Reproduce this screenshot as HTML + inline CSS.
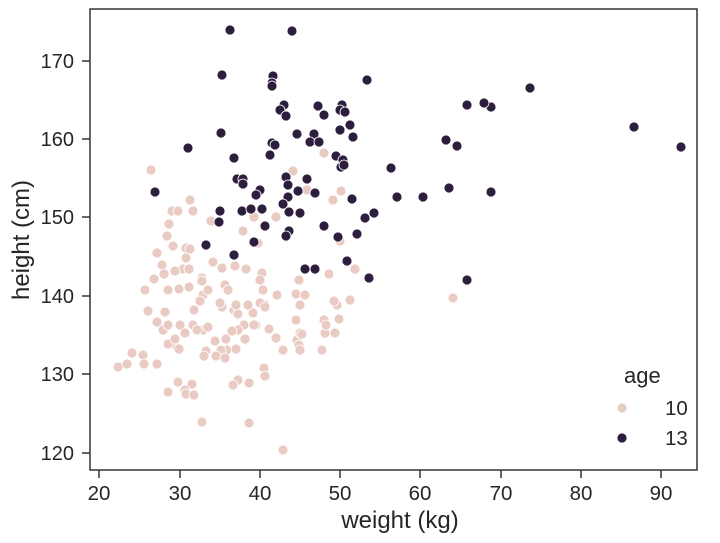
<!DOCTYPE html><html><head><meta charset="utf-8"><style>body{margin:0;background:#fff}svg{display:block;font-family:"Liberation Sans","DejaVu Sans",sans-serif}</style></head><body>
<svg width="720" height="543" viewBox="0 0 720 543">
<rect x="90" y="9" width="607" height="461" fill="#fff" stroke="#262626" stroke-width="1.4"/>
<g stroke="#262626" stroke-width="1.4">
<line x1="99" y1="470" x2="99" y2="478"/><line x1="180" y1="470" x2="180" y2="478"/><line x1="260" y1="470" x2="260" y2="478"/><line x1="340" y1="470" x2="340" y2="478"/><line x1="420" y1="470" x2="420" y2="478"/><line x1="501" y1="470" x2="501" y2="478"/><line x1="581" y1="470" x2="581" y2="478"/><line x1="661" y1="470" x2="661" y2="478"/>
<line x1="82" y1="453" x2="90" y2="453"/><line x1="82" y1="374" x2="90" y2="374"/><line x1="82" y1="296" x2="90" y2="296"/><line x1="82" y1="217" x2="90" y2="217"/><line x1="82" y1="139" x2="90" y2="139"/><line x1="82" y1="61" x2="90" y2="61"/>
</g>
<g font-size="20.5" fill="#262626" text-anchor="middle">
<text x="99" y="500">20</text><text x="180" y="500">30</text><text x="260" y="500">40</text><text x="340" y="500">50</text><text x="420" y="500">60</text><text x="501" y="500">70</text><text x="581" y="500">80</text><text x="661" y="500">90</text>
</g>
<g font-size="20" fill="#262626" text-anchor="end">
<text x="74" y="460">120</text><text x="74" y="381">130</text><text x="74" y="303">140</text><text x="74" y="224">150</text><text x="74" y="146">160</text><text x="74" y="68">170</text>
</g>
<text x="400" y="528" font-size="24" fill="#262626" text-anchor="middle">weight (kg)</text>
<text transform="translate(29,240) rotate(-90)" font-size="24" fill="#262626" text-anchor="middle">height (cm)</text>
<g fill="#eacbc3" stroke="#fff" stroke-width="0.8">
<circle cx="151" cy="170" r="5"/><circle cx="190" cy="200" r="5"/><circle cx="172" cy="211" r="5"/><circle cx="178" cy="211" r="5"/><circle cx="193" cy="211" r="5"/><circle cx="169" cy="224" r="5"/><circle cx="211" cy="221" r="5"/><circle cx="167" cy="236" r="5"/><circle cx="254" cy="217" r="5"/><circle cx="243" cy="231" r="5"/><circle cx="276" cy="217" r="5"/><circle cx="286" cy="237" r="5"/><circle cx="258" cy="243" r="5"/><circle cx="173" cy="246" r="5"/><circle cx="186" cy="248" r="5"/><circle cx="157" cy="253" r="5"/><circle cx="186" cy="258" r="5"/><circle cx="190" cy="249" r="5"/><circle cx="183" cy="269" r="5"/><circle cx="213" cy="262" r="5"/><circle cx="202" cy="278" r="5"/><circle cx="222" cy="268" r="5"/><circle cx="246" cy="269" r="5"/><circle cx="262" cy="273" r="5"/><circle cx="235" cy="266" r="5"/><circle cx="162" cy="265" r="5"/><circle cx="164" cy="274" r="5"/><circle cx="175" cy="271" r="5"/><circle cx="189" cy="269" r="5"/><circle cx="189" cy="287" r="5"/><circle cx="154" cy="279" r="5"/><circle cx="145" cy="290" r="5"/><circle cx="168" cy="290" r="5"/><circle cx="179" cy="289" r="5"/><circle cx="202" cy="281" r="5"/><circle cx="203" cy="295" r="5"/><circle cx="225" cy="285" r="5"/><circle cx="208" cy="290" r="5"/><circle cx="228" cy="290" r="5"/><circle cx="260" cy="280" r="5"/><circle cx="263" cy="290" r="5"/><circle cx="299" cy="280" r="5"/><circle cx="277" cy="295" r="5"/><circle cx="296" cy="294" r="5"/><circle cx="300" cy="305" r="5"/><circle cx="265" cy="305" r="5"/><circle cx="329" cy="274" r="5"/><circle cx="293" cy="171" r="5"/><circle cx="307" cy="190" r="5"/><circle cx="333" cy="200" r="5"/><circle cx="340" cy="241" r="5"/><circle cx="341" cy="191" r="5"/><circle cx="355" cy="269" r="5"/><circle cx="324" cy="153" r="5"/>
<circle cx="148" cy="311" r="5"/><circle cx="165" cy="312" r="5"/><circle cx="200" cy="301" r="5"/><circle cx="234" cy="310" r="5"/><circle cx="238" cy="314" r="5"/><circle cx="236" cy="305" r="5"/><circle cx="260" cy="303" r="5"/><circle cx="265" cy="307" r="5"/><circle cx="256" cy="325" r="5"/><circle cx="180" cy="325" r="5"/><circle cx="157" cy="322" r="5"/><circle cx="163" cy="330" r="5"/><circle cx="193" cy="325" r="5"/><circle cx="203" cy="330" r="5"/><circle cx="168" cy="325" r="5"/><circle cx="185" cy="333" r="5"/><circle cx="208" cy="327" r="5"/><circle cx="174" cy="344" r="5"/><circle cx="168" cy="344" r="5"/><circle cx="175" cy="339" r="5"/><circle cx="179" cy="349" r="5"/><circle cx="197" cy="330" r="5"/><circle cx="215" cy="341" r="5"/><circle cx="226" cy="339" r="5"/><circle cx="245" cy="339" r="5"/><circle cx="244" cy="325" r="5"/><circle cx="254" cy="325" r="5"/><circle cx="253" cy="313" r="5"/><circle cx="227" cy="350" r="5"/><circle cx="221" cy="350" r="5"/><circle cx="269" cy="329" r="5"/><circle cx="216" cy="356" r="5"/><circle cx="236" cy="349" r="5"/><circle cx="206" cy="351" r="5"/><circle cx="204" cy="356" r="5"/><circle cx="225" cy="358" r="5"/><circle cx="238" cy="330" r="5"/><circle cx="132" cy="353" r="5"/><circle cx="143" cy="355" r="5"/><circle cx="118" cy="367" r="5"/><circle cx="127" cy="364" r="5"/><circle cx="144" cy="364" r="5"/><circle cx="157" cy="364" r="5"/><circle cx="178" cy="382" r="5"/><circle cx="192" cy="384" r="5"/><circle cx="185" cy="390" r="5"/><circle cx="186" cy="394" r="5"/><circle cx="194" cy="395" r="5"/><circle cx="168" cy="392" r="5"/><circle cx="238" cy="380" r="5"/><circle cx="233" cy="385" r="5"/><circle cx="249" cy="383" r="5"/><circle cx="264" cy="368" r="5"/><circle cx="265" cy="376" r="5"/><circle cx="202" cy="422" r="5"/><circle cx="249" cy="423" r="5"/><circle cx="283" cy="450" r="5"/><circle cx="283" cy="350" r="5"/><circle cx="276" cy="338" r="5"/><circle cx="297" cy="340" r="5"/><circle cx="299" cy="345" r="5"/><circle cx="300" cy="350" r="5"/><circle cx="300" cy="333" r="5"/><circle cx="325" cy="333" r="5"/><circle cx="324" cy="320" r="5"/><circle cx="337" cy="305" r="5"/><circle cx="339" cy="319" r="5"/><circle cx="334" cy="301" r="5"/><circle cx="335" cy="333" r="5"/><circle cx="326" cy="325" r="5"/><circle cx="453" cy="298" r="5"/><circle cx="248" cy="305" r="5"/><circle cx="222" cy="307" r="5"/><circle cx="220" cy="303" r="5"/><circle cx="194" cy="310" r="5"/><circle cx="232" cy="331" r="5"/><circle cx="296" cy="320" r="5"/><circle cx="350" cy="300" r="5"/><circle cx="305" cy="295" r="5"/><circle cx="302" cy="334" r="5"/><circle cx="322" cy="350" r="5"/>
</g>
<g fill="#2d1e3e" stroke="#fff" stroke-width="0.8">
<circle cx="230" cy="30" r="5"/><circle cx="292" cy="31" r="5"/><circle cx="222" cy="75" r="5"/><circle cx="273" cy="76" r="5"/><circle cx="272" cy="83" r="5"/><circle cx="272" cy="86" r="5"/><circle cx="284" cy="105" r="5"/><circle cx="280" cy="110" r="5"/><circle cx="286" cy="116" r="5"/><circle cx="318" cy="106" r="5"/><circle cx="324" cy="115" r="5"/><circle cx="342" cy="105" r="5"/><circle cx="340" cy="110" r="5"/><circle cx="345" cy="112" r="5"/><circle cx="221" cy="133" r="5"/><circle cx="297" cy="134" r="5"/><circle cx="314" cy="134" r="5"/><circle cx="310" cy="142" r="5"/><circle cx="319" cy="142" r="5"/><circle cx="340" cy="130" r="5"/><circle cx="350" cy="125" r="5"/><circle cx="353" cy="137" r="5"/><circle cx="272" cy="143" r="5"/><circle cx="275" cy="145" r="5"/><circle cx="270" cy="155" r="5"/><circle cx="336" cy="156" r="5"/><circle cx="341" cy="167" r="5"/><circle cx="234" cy="158" r="5"/><circle cx="286" cy="177" r="5"/><circle cx="237" cy="179" r="5"/><circle cx="243" cy="179" r="5"/><circle cx="243" cy="184" r="5"/><circle cx="260" cy="190" r="5"/><circle cx="256" cy="195" r="5"/><circle cx="288" cy="185" r="5"/><circle cx="307" cy="179" r="5"/><circle cx="315" cy="193" r="5"/><circle cx="288" cy="197" r="5"/><circle cx="298" cy="191" r="5"/><circle cx="283" cy="204" r="5"/><circle cx="289" cy="212" r="5"/><circle cx="220" cy="211" r="5"/><circle cx="242" cy="211" r="5"/><circle cx="251" cy="209" r="5"/><circle cx="262" cy="209" r="5"/><circle cx="300" cy="213" r="5"/><circle cx="219" cy="222" r="5"/><circle cx="265" cy="226" r="5"/><circle cx="289" cy="231" r="5"/><circle cx="286" cy="236" r="5"/><circle cx="324" cy="226" r="5"/><circle cx="206" cy="245" r="5"/><circle cx="254" cy="242" r="5"/><circle cx="234" cy="255" r="5"/><circle cx="305" cy="269" r="5"/><circle cx="315" cy="269" r="5"/><circle cx="155" cy="192" r="5"/><circle cx="188" cy="148" r="5"/>
<circle cx="681" cy="147" r="5"/><circle cx="634" cy="127" r="5"/><circle cx="530" cy="88" r="5"/><circle cx="491" cy="107" r="5"/><circle cx="484" cy="103" r="5"/><circle cx="467" cy="105" r="5"/><circle cx="446" cy="140" r="5"/><circle cx="457" cy="146" r="5"/><circle cx="491" cy="192" r="5"/><circle cx="449" cy="188" r="5"/><circle cx="467" cy="280" r="5"/><circle cx="423" cy="197" r="5"/><circle cx="397" cy="197" r="5"/><circle cx="391" cy="168" r="5"/><circle cx="367" cy="80" r="5"/><circle cx="374" cy="213" r="5"/><circle cx="369" cy="278" r="5"/><circle cx="365" cy="218" r="5"/><circle cx="357" cy="234" r="5"/><circle cx="347" cy="261" r="5"/><circle cx="338" cy="237" r="5"/><circle cx="352" cy="199" r="5"/><circle cx="343" cy="160" r="5"/><circle cx="344" cy="165" r="5"/>
</g>
<text x="624" y="383" font-size="22" fill="#262626">age</text>
<circle cx="622" cy="408" r="5" fill="#eacbc3" stroke="#fff" stroke-width="0.8"/>
<text x="665" y="415" font-size="20.5" fill="#262626">10</text>
<circle cx="622" cy="438" r="5" fill="#2d1e3e" stroke="#fff" stroke-width="0.8"/>
<text x="665" y="445" font-size="20.5" fill="#262626">13</text>
</svg>
</body></html>
